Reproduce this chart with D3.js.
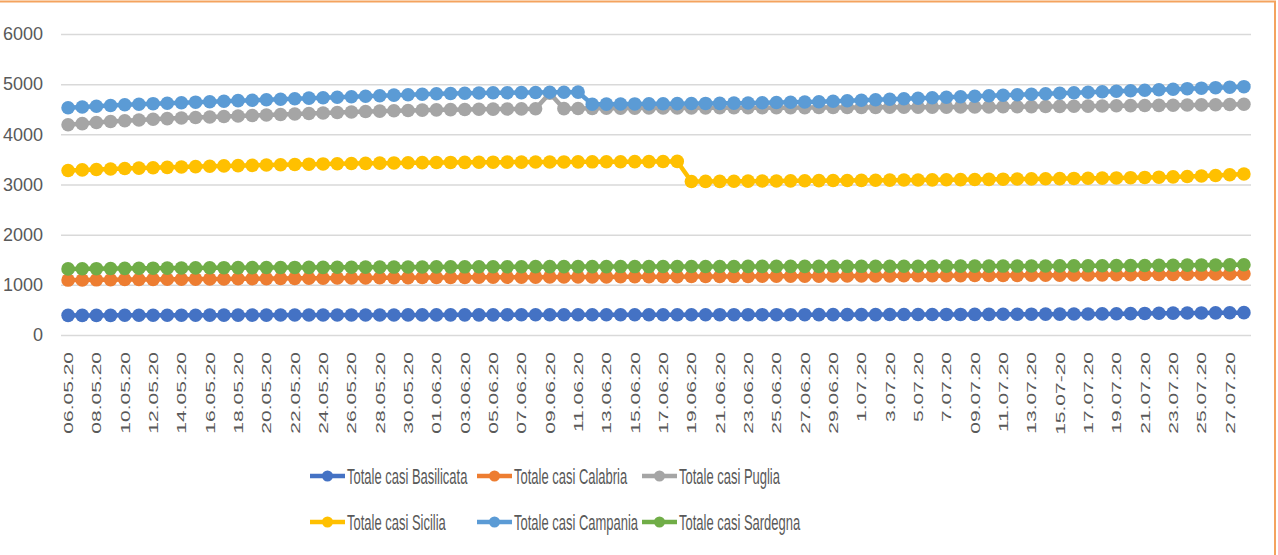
<!DOCTYPE html>
<html>
<head>
<meta charset="utf-8">
<script src="https://cdn.jsdelivr.net/npm/d3@7"></script>
<style>
  body { margin: 0; background: #fff; }
  svg { display: block; font-family: "Liberation Sans", Arial, sans-serif; }
</style>
</head>
<body>
<svg width="1278" height="555"></svg>
<script>
const svg = d3.select('svg');
const width = +svg.attr('width');
const height = +svg.attr('height');

// Categories (one per day), labels with the original spellings
const dates = [
  "06.05.20","07.05.20","08.05.20","09.05.20","10.05.20","11.05.20","12.05.20","13.05.20","14.05.20","15.05.20",
  "16.05.20","17.05.20","18.05.20","19.05.20","20.05.20","21.05.20","22.05.20","23.05.20","24.05.20","25.05.20",
  "26.05.20","27.05.20","28.05.20","29.05.20","30.05.20","31.05.20","01.06.20","02.06.20","03.06.20","04.06.20",
  "05.06.20","06.06.20","07.06.20","08.06.20","09.06.20","10.06.20","11.06.20","12.06.20","13.06.20","14.06.20",
  "15.06.20","16.06.20","17.06.20","18.06.20","19.06.20","20.06.20","21.06.20","22.06.20","23.06.20","24.06.20",
  "25.06.20","26.06.20","27.06.20","28.06.20","29.06.20","30.06.20","1.07.20","02.07.20","3.07.20","04.07.20",
  "5.07.20","06.07.20","7.07.20","08.07.20","09.07.20","10.07.20","11.07.20","12.07.20","13.07.20","14.07.20",
  "15.07-20","16.07.20","17.07.20","18.07.20","19.07.20","20.07.20","21.07.20","22.07.20","23.07.20","24.07.20",
  "25.07.20","26.07.20","27.07.20","28.07.20"
];

const yTicks = [0, 1000, 2000, 3000, 4000, 5000, 6000];

const basilicata = [
  392,391,391,392,393,393,394,394,395,395, 396,396,397,397,397,398,398,398,399,399,
  399,400,400,400,401,401,401,402,402,402, 402,403,403,403,403,403,404,404,404,404,
  404,404,404,404,404,404,405,405,405,405, 405,405,405,406,406,406,407,407,408,408,
  409,409,410,410,411,412,413,414,415,416, 417,418,419,421,423,426,430,433,436,438,
  440,442,444,446
];
const calabria = [
  1095,1097,1100,1102,1105,1106,1108,1111,1112,1114, 1117,1118,1120,1123,1124,1126,1129,1130,1132,1135,
  1136,1138,1140,1142,1143,1145,1146,1147,1149,1150, 1150,1151,1152,1153,1155,1155,1156,1157,1158,1160,
  1160,1161,1162,1163,1165,1165,1166,1167,1168,1170, 1170,1171,1172,1174,1175,1175,1176,1177,1179,1180,
  1180,1182,1183,1184,1185,1186,1188,1189,1190,1192, 1193,1195,1197,1199,1200,1202,1205,1207,1209,1211,
  1213,1215,1217,1219
];
const puglia = [
  4190,4214,4236,4255,4270,4286,4300,4314,4325,4336, 4346,4356,4366,4375,4386,4396,4405,4414,4425,4434,
  4445,4454,4462,4470,4476,4482,4488,4492,4496,4500, 4503,4505,4507,4509,4820,4512,4515,4518,4520,4522,
  4523,4524,4525,4526,4527,4528,4529,4530,4530,4531, 4532,4532,4533,4534,4535,4536,4537,4538,4539,4540,
  4541,4542,4543,4544,4545,4547,4549,4551,4553,4555, 4557,4560,4563,4566,4569,4572,4575,4578,4581,4584,
  4587,4590,4595,4600
];
const sicilia = [
  3280,3291,3300,3310,3318,3327,3334,3342,3350,3357, 3364,3371,3376,3382,3389,3394,3400,3405,3410,3414,
  3418,3422,3426,3430,3433,3436,3438,3440,3442,3444, 3445,3446,3447,3448,3449,3450,3451,3452,3453,3454,
  3455,3456,3458,3460,3060,3062,3063,3065,3067,3069, 3071,3073,3075,3077,3079,3081,3083,3085,3087,3089,
  3091,3093,3095,3097,3100,3103,3106,3109,3112,3115, 3118,3121,3124,3127,3131,3136,3141,3146,3152,3160,
  3170,3180,3195,3210
];
const campania = [
  4530,4545,4561,4575,4590,4600,4611,4620,4630,4641, 4650,4660,4671,4680,4690,4700,4710,4721,4730,4740,
  4750,4760,4770,4781,4790,4800,4810,4815,4820,4825, 4828,4830,4832,4835,4838,4840,4842,4600,4602,4604,
  4606,4608,4610,4612,4614,4616,4618,4622,4625,4630, 4635,4640,4645,4650,4660,4670,4680,4690,4700,4710,
  4720,4730,4740,4750,4760,4770,4780,4790,4800,4810, 4820,4830,4840,4850,4860,4870,4880,4890,4900,4910,
  4920,4930,4940,4950
];
const sardegna = [
  1318,1320,1322,1325,1328,1330,1332,1334,1336,1338, 1340,1342,1343,1344,1345,1346,1347,1348,1349,1350,
  1351,1352,1353,1354,1355,1356,1357,1358,1359,1360, 1360,1361,1361,1362,1362,1362,1363,1363,1363,1364,
  1364,1364,1365,1365,1365,1366,1366,1366,1367,1367, 1367,1368,1368,1368,1369,1369,1369,1370,1370,1370,
  1371,1371,1372,1372,1373,1373,1374,1374,1375,1376, 1377,1378,1379,1380,1382,1384,1386,1388,1390,1392,
  1394,1396,1398,1400
];

const seriesNames = ["Totale casi Basilicata","Totale casi Calabria","Totale casi Puglia",
                     "Totale casi Sicilia","Totale casi Campania","Totale casi Sardegna"];
const seriesValues = [basilicata, calabria, puglia, sicilia, campania, sardegna];
const seriesColors = ["#4472C4","#ED7D31","#A5A5A5","#FFC000","#5B9BD5","#70AD47"];

const textColor = "#595959";
const plot = { left: 61, right: 1251, top: 34, bottom: 335 };

// outer frame
svg.append('rect')
  .attr('x', -4).attr('y', 1.5)
  .attr('width', 1279).attr('height', 560)
  .attr('fill', '#fff')
  .attr('stroke', '#F4A35F')
  .attr('stroke-width', 2);

const xScale = d3.scaleBand()
  .domain(d3.range(dates.length))
  .range([plot.left, plot.right]);
const xc = i => xScale(i) + xScale.bandwidth() / 2;

const yScale = d3.scaleLinear()
  .domain([0, 6000])
  .range([plot.bottom, plot.top]);

// gridlines + y labels
const yAxis = d3.axisLeft(yScale)
  .tickValues(yTicks)
  .tickSize(-(plot.right - plot.left))
  .tickPadding(18)
  .tickFormat(d3.format('d'));
const yAxisG = svg.append('g')
  .attr('transform', `translate(${plot.left},0)`)
  .call(yAxis);
yAxisG.select('.domain').remove();
yAxisG.selectAll('line').attr('stroke', '#D9D9D9').attr('stroke-width', 1.5);
yAxisG.selectAll('text')
  .attr('fill', textColor)
  .style('font-size', '18px')
  .style('font-family', '"Liberation Sans", Arial, sans-serif');

// x labels: every other category
const xLabels = svg.append('g').attr('class', 'x-labels');
xLabels.selectAll('text')
  .data(dates.map((d, i) => ({ d, i })).filter(o => o.i % 2 === 0))
  .enter().append('text')
  .attr('transform', o => `translate(${xc(o.i)},352) rotate(-90) scale(1,0.64)`)
  .attr('text-anchor', 'end')
  .attr('dy', '0.36em')
  .attr('fill', textColor)
  .style('font-size', '21px')
  .text(o => o.d);

// series
const line = d3.line()
  .x((d, i) => xc(i))
  .y(d => yScale(d));

const seriesG = svg.append('g');
seriesValues.forEach((vals, s) => {
  const g = seriesG.append('g');
  g.append('path')
    .datum(vals)
    .attr('fill', 'none')
    .attr('stroke', seriesColors[s])
    .attr('stroke-width', 4.5)
    .attr('stroke-linejoin', 'round')
    .attr('d', line);
  g.selectAll('circle')
    .data(vals)
    .enter().append('circle')
    .attr('cx', (d, i) => xc(i))
    .attr('cy', d => yScale(d))
    .attr('r', 6.8)
    .attr('fill', seriesColors[s]);
});

// legend
const legendCols = [310, 477, 642];
const legendRows = [476, 522];
const legend = svg.append('g');
seriesNames.forEach((name, s) => {
  const x = legendCols[s % 3];
  const y = legendRows[Math.floor(s / 3)];
  const item = legend.append('g').attr('transform', `translate(${x},${y})`);
  item.append('line')
    .attr('x1', 0).attr('x2', 35)
    .attr('y1', 0).attr('y2', 0)
    .attr('stroke', seriesColors[s])
    .attr('stroke-width', 4.5);
  item.append('circle')
    .attr('cx', 17.5).attr('cy', 0).attr('r', 5.5)
    .attr('fill', seriesColors[s]);
  item.append('text')
    .attr('transform', 'translate(37,7.5) scale(0.59,1)')
    .attr('fill', textColor)
    .style('font-size', '22px')
    .text(name);
});
</script>
</body>
</html>
